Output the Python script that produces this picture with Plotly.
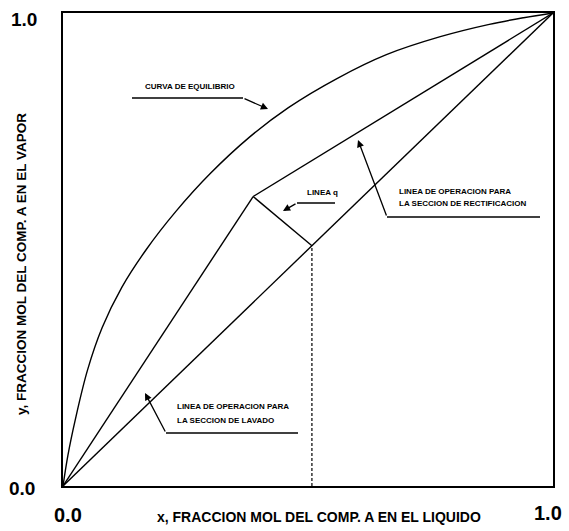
import plotly.graph_objects as go

# Equilibrium curve
eq_x = [0, 0.01, 0.025, 0.05, 0.08, 0.12, 0.17, 0.23, 0.30, 0.38, 0.46, 0.56, 0.66, 0.77, 0.87, 0.94, 1.0]
eq_y = [0, 0.065, 0.14, 0.245, 0.335, 0.42, 0.50, 0.58, 0.66, 0.737, 0.80, 0.862, 0.912, 0.950, 0.976, 0.990, 1.0]

diag_x = [0, 1]
diag_y = [0, 1]

# Operating lines
strip_x = [0, 0.388]
strip_y = [0, 0.612]
rect_x = [0.388, 1.0]
rect_y = [0.612, 1.0]
qline_x = [0.388, 0.508]
qline_y = [0.612, 0.508]
feed_x = [0.508, 0.508]
feed_y = [0, 0.508]

FONT = "Liberation Sans"
lw = 1.4
fig = go.Figure()
for xs, ys, shape in [(eq_x, eq_y, "spline"), (diag_x, diag_y, "linear"),
                      (strip_x, strip_y, "linear"), (rect_x, rect_y, "linear"),
                      (qline_x, qline_y, "linear")]:
    fig.add_trace(go.Scatter(x=xs, y=ys, mode="lines",
                             line=dict(color="black", width=lw, shape=shape, smoothing=1.0),
                             showlegend=False, hoverinfo="skip"))
fig.add_trace(go.Scatter(x=feed_x, y=feed_y, mode="lines",
                         line=dict(color="black", width=1.2, dash="3px,2px"),
                         showlegend=False, hoverinfo="skip"))

def px(x):
    return (x - 63) / 490
def py(y):
    return (486 - y) / 473

annotations = []
shapes = []

def bent_arrow(x0, x1, yh, hx, hy, tail_at):
    # horizontal segment then arrow to head
    shapes.append(dict(type="line", xref="x", yref="y", x0=px(x0), x1=px(x1), y0=py(yh), y1=py(yh),
                       line=dict(color="black", width=1.3)))
    annotations.append(dict(x=px(hx), y=py(hy), ax=px(tail_at), ay=py(yh), xref="x", yref="y",
                            axref="x", ayref="y", text="", showarrow=True, arrowhead=2,
                            arrowsize=1.1, arrowwidth=1.3, arrowcolor="black", standoff=0))

bent_arrow(132, 243, 98, 268, 109, 243)
bent_arrow(297, 335, 203, 283, 211, 297)
bent_arrow(387, 540, 217, 358, 140, 387)
bent_arrow(166, 298, 433, 145, 393, 166)

def small(text, x, y, anchor="center"):
    annotations.append(dict(x=px(x), y=py(y), xref="x", yref="y", text="<b>" + text + "</b>",
                            showarrow=False, xanchor=anchor, yanchor="middle",
                            font=dict(family=FONT, size=8, color="black")))

small("CURVA DE EQUILIBRIO", 190, 86)
small("LINEA q", 322, 192)
small("LINEA DE OPERACION PARA", 397, 191, "left")
small("LA SECCION DE RECTIFICACION", 397, 203, "left")
small("LINEA DE OPERACION PARA", 175, 406, "left")
small("LA SECCION DE LAVADO", 175, 420, "left")

def big(text, x, y, size=19):
    annotations.append(dict(x=px(x), y=py(y), xref="paper", yref="paper", text="<b>" + text + "</b>",
                            showarrow=False, xanchor="center", yanchor="middle",
                            font=dict(family=FONT, size=size, color="black")))

big("1.0", 24, 19)
big("0.0", 22, 488)
big("0.0", 68, 515, 20)
big("1.0", 548, 513, 20)

annotations.append(dict(x=px(319), y=py(517), xref="paper", yref="paper",
                        text="<b>x, FRACCION MOL DEL COMP. A EN EL LIQUIDO</b>", showarrow=False,
                        xanchor="center", yanchor="middle",
                        font=dict(family=FONT, size=14, color="black")))
annotations.append(dict(x=px(21), y=py(264), xref="paper", yref="paper", textangle=-90,
                        text="<b>y, FRACCION MOL DEL COMP. A EN EL VAPOR</b>", showarrow=False,
                        xanchor="center", yanchor="middle",
                        font=dict(family=FONT, size=13.5, color="black")))

axis = dict(range=[0, 1], showgrid=False, zeroline=False, showticklabels=False, ticks="",
            showline=True, mirror=True, linecolor="black", linewidth=2, fixedrange=True)
fig.update_layout(width=569, height=531, margin=dict(l=63, r=16, t=13, b=45),
                  paper_bgcolor="white", plot_bgcolor="white",
                  xaxis=axis, yaxis=axis, annotations=annotations, shapes=shapes)
fig.write_html("out.html")
